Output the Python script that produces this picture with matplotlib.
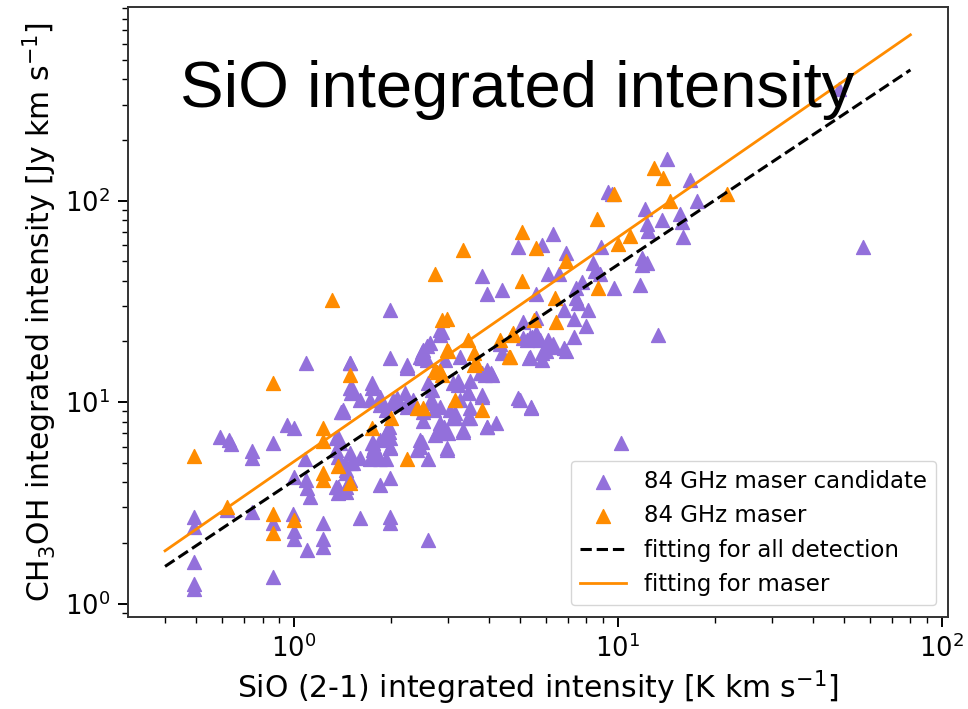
import matplotlib
matplotlib.use('Agg')
import matplotlib.pyplot as plt
import numpy as np

# SiO (2-1) [K km/s] vs CH3OH [Jy km/s] for the 84 GHz candidates
cand_x = [0.49, 0.49, 0.49, 0.49, 0.49, 0.59, 0.63, 0.64, 0.62, 0.74, 0.74, 0.74,
          0.86, 0.86, 0.86, 1.09, 0.99, 1.0, 1.0, 0.95, 1.0, 1.1, 1.23, 1.23, 1.23,
          1.0, 1.08, 1.09, 1.1, 1.12, 1.35, 1.35, 1.37, 1.37, 1.42,
          1.49, 1.5, 1.5, 1.74, 1.74, 1.6, 1.42, 1.84, 1.84, 1.74, 1.97, 1.97, 1.98, 1.98,
          2.08, 2.04, 2.23, 2.2, 2.23, 2.5, 2.5, 2.45, 2.45, 2.4, 2.6, 2.63, 2.7, 2.6, 2.66,
          2.76, 2.83, 2.99, 2.83, 2.9, 2.96, 3.1, 3.15, 3.2, 3.2, 3.33, 3.45, 3.5, 3.45,
          3.75, 3.9, 4.1, 3.8, 3.95, 4.2, 4.9, 5.4,
          1.6, 1.98, 1.98, 2.6, 1.84, 1.98, 1.6, 1.72, 1.84, 1.44, 1.5, 1.45, 1.45, 1.45,
          1.75, 1.75, 1.77,
          1.98, 4.9, 3.8, 3.95, 4.4, 2.86, 1.49, 1.98, 2.23, 2.5, 2.63, 2.45, 2.57, 3.26,
          5.1, 5.6, 5.45, 5.25, 5.75, 4.4, 4.33, 5.36, 5.6,
          14.2, 16.7, 9.3, 9.6, 17.6, 12.1, 15.6, 15.8, 13.7, 12.3, 12.4, 15.9,
          6.3, 5.85, 8.9, 6.9, 11.9, 12.3, 11.9, 8.4, 8.5, 8.8, 6.1, 6.6,
          9.7, 11.7, 7.45, 7.75, 7.45, 7.55, 6.8, 7.3, 8.1, 8.0, 7.3, 6.8, 13.3,
          5.6, 6.1, 6.3, 5.85, 5.85, 48, 57, 10.2, 5.4, 5.0,
          6.9, 6.3, 5.3, 5.36, 5.1, 6.0,
          2.93, 2.83, 2.83, 2.57, 2.48, 2.48, 2.23, 1.49, 3.8, 4.05,
          1.4, 1.37, 1.39, 1.37, 1.49, 1.52, 1.45, 1.49, 1.35,
          2.48, 2.96, 2.73, 2.86, 3.33, 3.5, 3.15, 3.95, 3.45, 3.8,
          1.52, 1.75, 1.72, 1.84, 1.93, 2.02, 2.13, 2.23, 2.33, 2.69, 2.83, 3.03, 3.26,
          3.1, 3.5, 3.95, 1.84, 1.93, 1.98, 1.75, 1.93]
cand_y = [2.7, 2.4, 1.6, 1.25, 1.18, 6.7, 6.5, 6.2, 2.9, 5.7, 5.3, 2.86,
          6.3, 2.5, 1.35, 15.6, 2.8, 2.3, 2.1, 7.7, 7.4, 1.85, 2.5, 2.1, 1.9,
          4.25, 5.2, 4.1, 3.75, 3.4, 6.6, 5.8, 3.8, 3.55, 9.1,
          15.6, 11.7, 11.1, 12.4, 11.7, 10.2, 8.9, 10.6, 9.7, 6.3, 7.5, 7.1, 6.6, 5.9,
          10.5, 9.9, 14.7, 11.1, 9.9, 8.9, 8.1, 6.5, 6.0, 5.8, 5.2, 10.0, 9.1, 12.4, 11.5,
          7.1, 7.0, 7.0, 7.9, 7.5, 5.9, 8.3, 8.8, 12.8, 12.1, 7.3, 11.1, 9.3, 8.3,
          13.9, 13.6, 13.6, 10.8, 7.5, 7.9, 10.5, 9.5,
          2.66, 2.7, 2.5, 2.07, 3.9, 4.2, 5.3, 5.2, 5.2, 5.0, 5.0, 4.45, 3.8, 3.6,
          6.3, 5.8, 6.0,
          28.5, 59, 42.4, 34.6, 36, 22.3, 15.7, 16.5, 15.2, 18.1, 19.6, 16.7, 16.1, 16.7,
          24.9, 26.3, 21, 20.3, 20.3, 17.5, 19.5, 16.7, 34.6,
          161, 126, 110, 108, 100, 91, 86, 78, 80, 77, 71, 66,
          68, 60, 59, 55, 52, 49, 48, 49, 45, 43, 43, 43,
          37, 38, 37, 39.5, 33, 31, 28.5, 26, 28.5, 24, 21, 18.5, 21.5,
          22, 20.3, 18.7, 17.5, 16.1, 358, 58.7, 6.25, 9.4, 10.2,
          18, 19.5, 16.5, 21, 20.7, 18,
          16.1, 22.7, 21.5, 19.1, 17.7, 16.5, 15.0, 11.7, 13.9, 13.9,
          8.95, 6.7, 6.3, 5.35, 5.6, 5.0, 4.6, 4.1, 3.8,
          6.35, 5.8, 6.9, 7.55, 7.1, 8.3, 8.3, 7.55, 11.2, 10.6,
          11.5, 11.9, 10.2, 10.2, 9.1, 10.2, 9.8, 9.5, 10.2, 9.9, 9.5, 9.1, 10.2,
          12.4, 12.8, 14.4, 6.5, 7.0, 6.0, 5.35, 5.2]

# confirmed masers
maser_x = [0.49, 0.62, 0.86, 0.86, 0.86, 1.0, 1.23, 1.23, 1.23, 1.23, 1.37, 1.49, 1.49,
           1.74, 2.0, 2.4, 2.5, 2.23, 2.76, 2.86, 3.15, 3.6, 3.8,
           3.33, 2.73, 5.05, 5.6, 5.05, 2.86, 2.96, 2.96, 3.45, 3.6, 4.65, 4.33, 4.75,
           12.9, 13.8, 9.7, 21.7, 14.5, 8.6, 10.9, 10.0, 6.9, 8.7, 6.4, 6.45, 5.5,
           1.31, 4.7, 4.6, 3.65, 3.0, 2.73, 2.83]
maser_y = [5.4, 3.0, 12.5, 2.8, 2.25, 2.6, 7.4, 6.4, 4.45, 4.1, 4.8, 13.6, 3.97,
           7.4, 8.3, 9.4, 9.3, 5.2, 14.1, 13.6, 10.3, 15.2, 9.1,
           57, 43, 70, 58, 40, 25.5, 26, 18.1, 20.3, 17.5, 16.7, 20.3, 22,
           146, 130, 108, 108, 100, 81, 67, 61, 50, 37, 33, 25, 25.5,
           32, 21.5, 16.7, 15.6, 18, 14.4, 14.2]

# power-law fits y = a * x**b
fit_all = (4.08, 1.071)
fit_maser = (5.07, 1.113)
fit_range = (0.4, 80)

fig = plt.figure(figsize=(9.68, 7.09), dpi=100)
ax = fig.add_axes([0.132, 0.130, 0.847, 0.860])

h1 = ax.scatter(cand_x, cand_y, marker='^', s=100, color='mediumpurple',
                label='84 GHz maser candidate')
h2 = ax.scatter(maser_x, maser_y, marker='^', s=100, color='darkorange',
                label='84 GHz maser')

xf = np.array(fit_range)
h3, = ax.plot(xf, fit_all[0] * xf ** fit_all[1], 'k--', lw=2.2,
              label='fitting for all detection')
h4, = ax.plot(xf, fit_maser[0] * xf ** fit_maser[1], color='darkorange', lw=2.0,
              label='fitting for maser')

ax.set_xscale('log')
ax.set_yscale('log')
ax.set_xlabel('SiO (2-1) integrated intensity [K km s$^{-1}$]', fontsize=21.5,
              labelpad=4)
ax.set_ylabel('CH$_3$OH integrated intensity [Jy km s$^{-1}$]', fontsize=21.5)
ax.tick_params(which='major', labelsize=18.5, length=7, width=1.4, pad=6)
ax.tick_params(which='minor', length=4, width=1.0)
for sp in ax.spines.values():
    sp.set_linewidth(1.4)
    sp.set_color('#333333')

ax.legend(handles=[h1, h2, h3, h4], loc='lower right', fontsize=16.5,
          scatterpoints=1)

fig.text(0.186, 0.849, 'SiO integrated intensity', fontsize=47,
         family='Liberation Sans', va='baseline', ha='left')

fig.savefig('out.png', dpi=100)
